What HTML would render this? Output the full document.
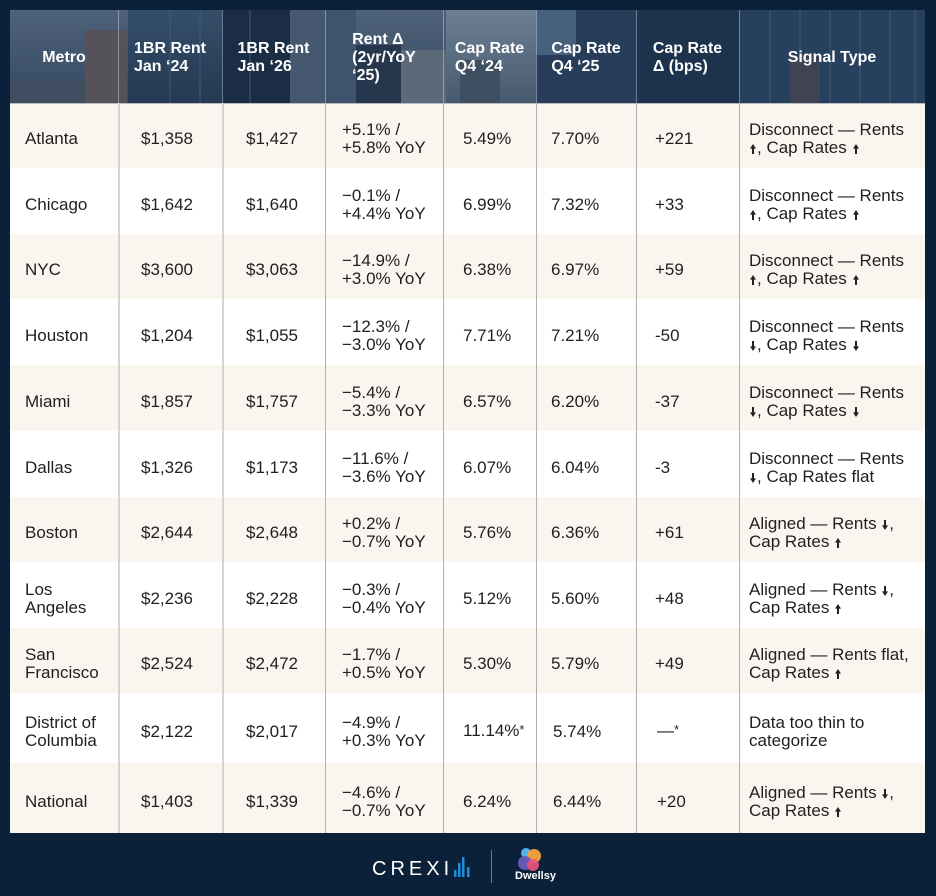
<!DOCTYPE html>
<html><head><meta charset="utf-8">
<style>
*{margin:0;padding:0;box-sizing:border-box}
html,body{width:936px;height:896px;background:#0b2139;overflow:hidden}
body{position:relative;font-family:"Liberation Sans",Arial,sans-serif}
.hdr{position:absolute;top:10px;height:93px;display:flex;align-items:center;justify-content:center;padding-top:3px;color:#fff;font-weight:bold;font-size:16px;line-height:18px}
.hdr div{text-align:left;white-space:nowrap}
.row{position:absolute;left:10px;width:915px}
.c{position:absolute;top:0;height:100%;display:flex;align-items:center;padding-top:7px;font-size:17px;line-height:18px;color:#1f1f1f;white-space:nowrap}
.c > div{display:block}
.cream{background:#faf6ef}
.white{background:#fff}
.vl{position:absolute;top:103px;height:730px;width:1px}
.hl{position:absolute;top:10px;height:93px;width:1px;background:rgba(210,220,230,0.45)}
.ar{display:inline-block;width:6px;height:10px;fill:#222;vertical-align:-1px;margin:0 1px}
</style></head><body>

<svg width="915" height="93" style="position:absolute;left:10px;top:10px" viewBox="0 0 915 93">
<defs>
<linearGradient id="sky" x1="0" y1="0" x2="0" y2="1"><stop offset="0" stop-color="#5f7289"/><stop offset="1" stop-color="#3f5369"/></linearGradient>
<linearGradient id="glass" x1="0" y1="0" x2="0" y2="1"><stop offset="0" stop-color="#3f5a75"/><stop offset="1" stop-color="#2a3f57"/></linearGradient>
<linearGradient id="bright" x1="0" y1="0" x2="0" y2="1"><stop offset="0" stop-color="#8496a8"/><stop offset="1" stop-color="#56687a"/></linearGradient>
</defs>
<rect width="915" height="93" fill="url(#sky)"/>
<rect x="0" y="70" width="80" height="23" fill="#4b5a6a"/>
<rect x="75" y="20" width="42" height="73" fill="#675f5f"/>
<rect x="118" y="0" width="95" height="93" fill="url(#glass)"/>
<rect x="212" y="0" width="68" height="93" fill="#1f3046"/>
<rect x="280" y="0" width="36" height="93" fill="#53667b"/>
<rect x="316" y="0" width="30" height="93" fill="#4a5f77"/>
<rect x="346" y="35" width="45" height="58" fill="#2b3b50"/>
<rect x="391" y="40" width="45" height="53" fill="#6e7b88"/>
<rect x="436" y="0" width="90" height="93" fill="url(#bright)"/>
<rect x="450" y="50" width="40" height="43" fill="#4c5b6b"/>
<rect x="526" y="0" width="100" height="93" fill="#2e4460"/>
<rect x="526" y="0" width="40" height="45" fill="#55708a"/>
<rect x="626" y="0" width="103" height="93" fill="#213751"/>
<rect x="729" y="0" width="186" height="93" fill="#2d4864"/>
<g stroke="#4d6984" stroke-width="1">
<line x1="760" y1="0" x2="760" y2="93"/><line x1="790" y1="0" x2="790" y2="93"/><line x1="820" y1="0" x2="820" y2="93"/><line x1="850" y1="0" x2="850" y2="93"/><line x1="880" y1="0" x2="880" y2="93"/><line x1="905" y1="0" x2="905" y2="93"/>
<line x1="160" y1="0" x2="160" y2="93"/><line x1="190" y1="0" x2="190" y2="93"/><line x1="240" y1="0" x2="240" y2="93"/>
</g>
<rect x="780" y="45" width="30" height="48" fill="#4d4c55"/>
<rect x="0" y="0" width="915" height="93" fill="#0d2440" opacity="0.2"/>
</svg>

<div class="hdr" style="left:10px;width:108px"><div>Metro</div></div>
<div class="hdr" style="left:118px;width:104px"><div>1BR Rent<br>Jan ‘24</div></div>
<div class="hdr" style="left:222px;width:103px"><div>1BR Rent<br>Jan ‘26</div></div>
<div class="hdr" style="left:325px;width:118px"><div>Rent Δ<br>(2yr/YoY<br>‘25)</div></div>
<div class="hdr" style="left:443px;width:93px"><div>Cap Rate<br>Q4 ‘24</div></div>
<div class="hdr" style="left:536px;width:100px"><div>Cap Rate<br>Q4 ‘25</div></div>
<div class="hdr" style="left:636px;width:103px"><div>Cap Rate<br>Δ (bps)</div></div>
<div class="hdr" style="left:739px;width:186px"><div>Signal Type</div></div>

<div class="hl" style="left:118px"></div><div class="hl" style="left:222px"></div><div class="hl" style="left:325px"></div><div class="hl" style="left:443px"></div><div class="hl" style="left:536px"></div><div class="hl" style="left:636px"></div><div class="hl" style="left:739px"></div>

<div class="row cream" style="top:103px;height:65px">
<div class="c" style="left:15px"><div>Atlanta</div></div><div class="c" style="left:131px"><div>$1,358</div></div><div class="c" style="left:236px"><div>$1,427</div></div><div class="c" style="left:332px"><div>+5.1% /<br>+5.8% YoY</div></div><div class="c" style="left:453px"><div>5.49%</div></div><div class="c" style="left:541px"><div>7.70%</div></div><div class="c" style="left:645px"><div>+221</div></div>
<div class="c" style="left:739px"><div>Disconnect — Rents<br><svg class="ar" viewBox="0 0 6 10"><path d="M3 0L6 4.6H4V10H2V4.6H0Z"/></svg>, Cap Rates <svg class="ar" viewBox="0 0 6 10"><path d="M3 0L6 4.6H4V10H2V4.6H0Z"/></svg></div></div>
</div>
<div class="row white" style="top:168px;height:66px">
<div class="c" style="left:15px"><div>Chicago</div></div><div class="c" style="left:131px"><div>$1,642</div></div><div class="c" style="left:236px"><div>$1,640</div></div><div class="c" style="left:332px"><div>−0.1% /<br>+4.4% YoY</div></div><div class="c" style="left:453px"><div>6.99%</div></div><div class="c" style="left:541px"><div>7.32%</div></div><div class="c" style="left:645px"><div>+33</div></div>
<div class="c" style="left:739px"><div>Disconnect — Rents<br><svg class="ar" viewBox="0 0 6 10"><path d="M3 0L6 4.6H4V10H2V4.6H0Z"/></svg>, Cap Rates <svg class="ar" viewBox="0 0 6 10"><path d="M3 0L6 4.6H4V10H2V4.6H0Z"/></svg></div></div>
</div>
<div class="row cream" style="top:234px;height:65px">
<div class="c" style="left:15px"><div>NYC</div></div><div class="c" style="left:131px"><div>$3,600</div></div><div class="c" style="left:236px"><div>$3,063</div></div><div class="c" style="left:332px"><div>−14.9% /<br>+3.0% YoY</div></div><div class="c" style="left:453px"><div>6.38%</div></div><div class="c" style="left:541px"><div>6.97%</div></div><div class="c" style="left:645px"><div>+59</div></div>
<div class="c" style="left:739px"><div>Disconnect — Rents<br><svg class="ar" viewBox="0 0 6 10"><path d="M3 0L6 4.6H4V10H2V4.6H0Z"/></svg>, Cap Rates <svg class="ar" viewBox="0 0 6 10"><path d="M3 0L6 4.6H4V10H2V4.6H0Z"/></svg></div></div>
</div>
<div class="row white" style="top:299px;height:66px">
<div class="c" style="left:15px"><div>Houston</div></div><div class="c" style="left:131px"><div>$1,204</div></div><div class="c" style="left:236px"><div>$1,055</div></div><div class="c" style="left:332px"><div>−12.3% /<br>−3.0% YoY</div></div><div class="c" style="left:453px"><div>7.71%</div></div><div class="c" style="left:541px"><div>7.21%</div></div><div class="c" style="left:645px"><div>-50</div></div>
<div class="c" style="left:739px"><div>Disconnect — Rents<br><svg class="ar" viewBox="0 0 6 10"><path d="M3 10L6 5.4H4V0H2V5.4H0Z"/></svg>, Cap Rates <svg class="ar" viewBox="0 0 6 10"><path d="M3 10L6 5.4H4V0H2V5.4H0Z"/></svg></div></div>
</div>
<div class="row cream" style="top:365px;height:66px">
<div class="c" style="left:15px"><div>Miami</div></div><div class="c" style="left:131px"><div>$1,857</div></div><div class="c" style="left:236px"><div>$1,757</div></div><div class="c" style="left:332px"><div>−5.4% /<br>−3.3% YoY</div></div><div class="c" style="left:453px"><div>6.57%</div></div><div class="c" style="left:541px"><div>6.20%</div></div><div class="c" style="left:645px"><div>-37</div></div>
<div class="c" style="left:739px"><div>Disconnect — Rents<br><svg class="ar" viewBox="0 0 6 10"><path d="M3 10L6 5.4H4V0H2V5.4H0Z"/></svg>, Cap Rates <svg class="ar" viewBox="0 0 6 10"><path d="M3 10L6 5.4H4V0H2V5.4H0Z"/></svg></div></div>
</div>
<div class="row white" style="top:431px;height:66px">
<div class="c" style="left:15px"><div>Dallas</div></div><div class="c" style="left:131px"><div>$1,326</div></div><div class="c" style="left:236px"><div>$1,173</div></div><div class="c" style="left:332px"><div>−11.6% /<br>−3.6% YoY</div></div><div class="c" style="left:453px"><div>6.07%</div></div><div class="c" style="left:541px"><div>6.04%</div></div><div class="c" style="left:645px"><div>-3</div></div>
<div class="c" style="left:739px"><div>Disconnect — Rents<br><svg class="ar" viewBox="0 0 6 10"><path d="M3 10L6 5.4H4V0H2V5.4H0Z"/></svg>, Cap Rates flat</div></div>
</div>
<div class="row cream" style="top:497px;height:65px">
<div class="c" style="left:15px"><div>Boston</div></div><div class="c" style="left:131px"><div>$2,644</div></div><div class="c" style="left:236px"><div>$2,648</div></div><div class="c" style="left:332px"><div>+0.2% /<br>−0.7% YoY</div></div><div class="c" style="left:453px"><div>5.76%</div></div><div class="c" style="left:541px"><div>6.36%</div></div><div class="c" style="left:645px"><div>+61</div></div>
<div class="c" style="left:739px"><div>Aligned — Rents <svg class="ar" viewBox="0 0 6 10"><path d="M3 10L6 5.4H4V0H2V5.4H0Z"/></svg>,<br>Cap Rates <svg class="ar" viewBox="0 0 6 10"><path d="M3 0L6 4.6H4V10H2V4.6H0Z"/></svg></div></div>
</div>
<div class="row white" style="top:562px;height:66px">
<div class="c" style="left:15px"><div>Los<br>Angeles</div></div><div class="c" style="left:131px"><div>$2,236</div></div><div class="c" style="left:236px"><div>$2,228</div></div><div class="c" style="left:332px"><div>−0.3% /<br>−0.4% YoY</div></div><div class="c" style="left:453px"><div>5.12%</div></div><div class="c" style="left:541px"><div>5.60%</div></div><div class="c" style="left:645px"><div>+48</div></div>
<div class="c" style="left:739px"><div>Aligned — Rents <svg class="ar" viewBox="0 0 6 10"><path d="M3 10L6 5.4H4V0H2V5.4H0Z"/></svg>,<br>Cap Rates <svg class="ar" viewBox="0 0 6 10"><path d="M3 0L6 4.6H4V10H2V4.6H0Z"/></svg></div></div>
</div>
<div class="row cream" style="top:628px;height:65px">
<div class="c" style="left:15px"><div>San<br>Francisco</div></div><div class="c" style="left:131px"><div>$2,524</div></div><div class="c" style="left:236px"><div>$2,472</div></div><div class="c" style="left:332px"><div>−1.7% /<br>+0.5% YoY</div></div><div class="c" style="left:453px"><div>5.30%</div></div><div class="c" style="left:541px"><div>5.79%</div></div><div class="c" style="left:645px"><div>+49</div></div>
<div class="c" style="left:739px"><div>Aligned — Rents flat,<br>Cap Rates <svg class="ar" viewBox="0 0 6 10"><path d="M3 0L6 4.6H4V10H2V4.6H0Z"/></svg></div></div>
</div>
<div class="row white" style="top:693px;height:70px">
<div class="c" style="left:15px"><div>District of<br>Columbia</div></div><div class="c" style="left:131px"><div>$2,122</div></div><div class="c" style="left:236px"><div>$2,017</div></div><div class="c" style="left:332px"><div>−4.9% /<br>+0.3% YoY</div></div><div class="c" style="left:453px"><div>11.14%<span style="font-size:13px;position:relative;top:-2px">*</span></div></div><div class="c" style="left:543px"><div>5.74%</div></div><div class="c" style="left:647px"><div>—<span style="font-size:13px;position:relative;top:-2px">*</span></div></div>
<div class="c" style="left:739px"><div>Data too thin to<br>categorize</div></div>
</div>
<div class="row cream" style="top:763px;height:70px">
<div class="c" style="left:15px"><div>National</div></div><div class="c" style="left:131px"><div>$1,403</div></div><div class="c" style="left:236px"><div>$1,339</div></div><div class="c" style="left:332px"><div>−4.6% /<br>−0.7% YoY</div></div><div class="c" style="left:453px"><div>6.24%</div></div><div class="c" style="left:543px"><div>6.44%</div></div><div class="c" style="left:647px"><div>+20</div></div>
<div class="c" style="left:739px"><div>Aligned — Rents <svg class="ar" viewBox="0 0 6 10"><path d="M3 10L6 5.4H4V0H2V5.4H0Z"/></svg>,<br>Cap Rates <svg class="ar" viewBox="0 0 6 10"><path d="M3 0L6 4.6H4V10H2V4.6H0Z"/></svg></div></div>
</div>

<div style="position:absolute;left:10px;top:103px;width:915px;height:1px;background:#b8bcc2"></div>
<div class="vl" style="left:118px;background:#d4d4d4;width:2px"></div>
<div class="vl" style="left:222px;background:#d4d4d4;width:2px"></div>
<div class="vl" style="left:325px;background:#b0b0b0"></div>
<div class="vl" style="left:443px;background:#b0b0b0"></div>
<div class="vl" style="left:536px;background:#b0b0b0"></div>
<div class="vl" style="left:636px;background:#b0b0b0"></div>
<div class="vl" style="left:739px;background:#b0b0b0"></div>

<div style="position:absolute;left:372px;top:859px;font-size:20px;line-height:20px;letter-spacing:4px;color:#fff;white-space:nowrap">CREXI</div>
<svg style="position:absolute;left:453px;top:855px" width="20" height="24" viewBox="0 0 20 24">
<rect x="1" y="15" width="2.5" height="7" fill="#1d8fd8"/>
<rect x="5" y="8" width="2.5" height="14" fill="#1d8fd8"/>
<rect x="9" y="2" width="2.5" height="20" fill="#1d8fd8"/>
<rect x="14" y="12" width="2.5" height="10" fill="#1d8fd8"/>
</svg>
<div style="position:absolute;left:491px;top:850px;width:1px;height:33px;background:#6b7a8a"></div>
<svg style="position:absolute;left:512px;top:845px" width="36" height="28" viewBox="0 0 36 28">
<circle cx="14" cy="8" r="5" fill="#4fb3ef"/>
<circle cx="22" cy="11" r="7" fill="#f7a23a" opacity="0.95"/>
<circle cx="13" cy="18" r="7" fill="#6a5bb8" opacity="0.95"/>
<circle cx="21" cy="20" r="6" fill="#e8557c" opacity="0.9"/>
</svg>
<div style="position:absolute;left:515px;top:870px;font-size:11px;line-height:12px;font-weight:bold;color:#fff;white-space:nowrap">Dwellsy</div>

</body></html>
